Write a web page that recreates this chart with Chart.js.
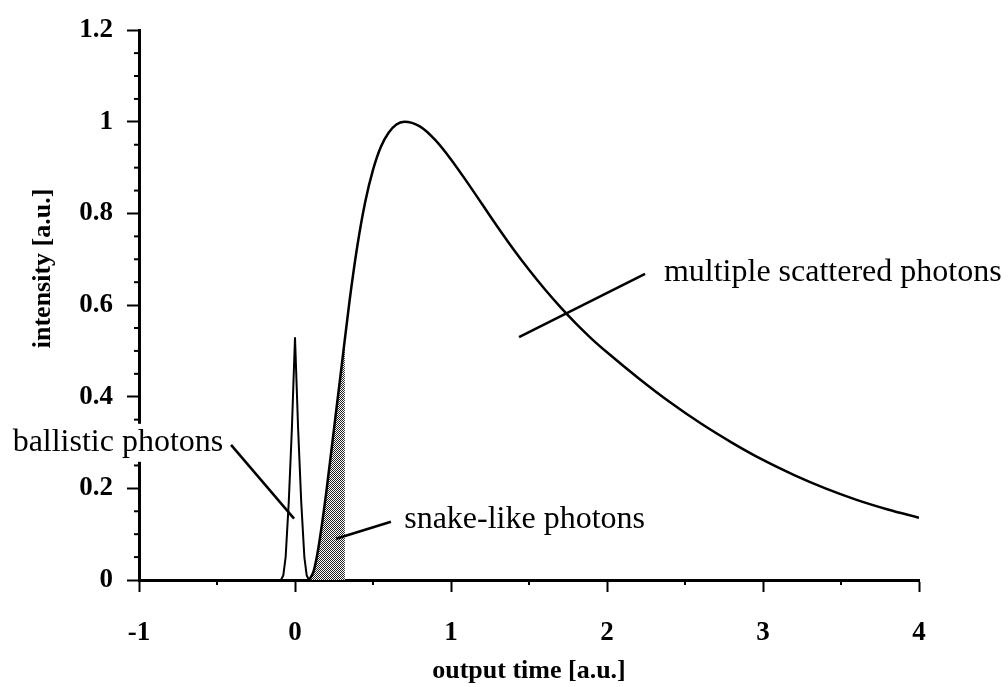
<!DOCTYPE html>
<html lang="en">
<head>
  <meta charset="UTF-8">
  <title>output time vs intensity</title>
  <script src="https://cdn.jsdelivr.net/npm/chart.js"></script>
  <style>
    body {
      margin: 0;
      background-color: white;
    }

    #chartContainer {
      width: 1008px;
      height: 687px;
      position: relative;
    }
  </style>
</head>
<body>

  <div id="chartContainer">
    <canvas id="photonChart"></canvas>
  </div>

  <script>
    // ballistic peak around t = 0
    const ballisticX = [-0.09, -0.075, -0.06, -0.04, -0.02, 0, 0.02, 0.04, 0.06, 0.075, 0.09];
    const ballisticY = [0, 0.01, 0.05, 0.17, 0.33, 0.53, 0.33, 0.17, 0.05, 0.01, 0];

    // scattered photons curve
    const scatterX = [0.09, 0.12, 0.15, 0.2, 0.25, 0.3, 0.35, 0.4, 0.45, 0.5, 0.55, 0.6, 0.65, 0.7,
      0.8, 0.9, 1.0, 1.1, 1.2, 1.3, 1.4, 1.5, 1.6, 1.7, 1.8, 1.9, 2.0,
      2.2, 2.4, 2.6, 2.8, 3.0, 3.2, 3.4, 3.6, 3.8, 4.0];
    const scatterY = [0, 0.02, 0.07, 0.19, 0.33, 0.47, 0.61, 0.73, 0.825, 0.895, 0.945, 0.976, 0.994, 1.0,
      0.99, 0.96, 0.918, 0.870, 0.820, 0.770, 0.722, 0.677, 0.635, 0.596, 0.560, 0.527, 0.497,
      0.441, 0.389, 0.342, 0.300, 0.262, 0.229, 0.200, 0.175, 0.154, 0.136];

    // snake-like (shaded) part
    const snakeX = [0.09, 0.12, 0.15, 0.2, 0.25, 0.3, 0.32];
    const snakeY = [0, 0.02, 0.07, 0.19, 0.33, 0.47, 0.52];

    const xTicks = [-1, 0, 1, 2, 3, 4];
    const yTicks = [0, 0.2, 0.4, 0.6, 0.8, 1, 1.2];

    // annotations: text + pointer line (data coordinates)
    const notes = [
      { text: 'ballistic photons', x: -1.81, y: 0.282, box: true, line: [-0.41, 0.295, -0.006, 0.134] },
      { text: 'snake-like photons', x: 0.70, y: 0.114, box: false, line: [0.615, 0.127, 0.263, 0.09] },
      { text: 'multiple scattered photons', x: 2.365, y: 0.653, box: false, line: [1.436, 0.530, 2.244, 0.668] }
    ];

    const pts = (xs, ys) => xs.map((x, i) => ({ x: x, y: ys[i] }));

    // stipple pattern for the shaded area
    const pc = document.createElement('canvas');
    pc.width = 2; pc.height = 2;
    const pctx = pc.getContext('2d');
    pctx.fillStyle = '#fff';
    pctx.fillRect(0, 0, 2, 2);
    pctx.fillStyle = '#222';
    pctx.fillRect(0, 0, 1, 1);
    pctx.fillRect(1, 1, 1, 1);
    const stipple = pctx.createPattern(pc, 'repeat');

    const serif = "'Liberation Serif', 'Times New Roman', serif";

    const extras = {
      id: 'extras',
      afterDraw(chart) {
        const { ctx, scales: { x, y } } = chart;
        ctx.save();
        ctx.strokeStyle = 'black';
        ctx.lineWidth = 2;
        // minor ticks
        for (let v = -1; v <= 4.001; v += 0.5) {
          if (Math.abs(v - Math.round(v)) < 0.01) continue;
          const px = x.getPixelForValue(v);
          ctx.beginPath();
          ctx.moveTo(px, y.bottom);
          ctx.lineTo(px, y.bottom + 5);
          ctx.stroke();
        }
        for (let k = 0; k <= 24; k++) {
          if (k % 4 === 0) continue;
          const py = y.getPixelForValue(k * 0.05);
          ctx.beginPath();
          ctx.moveTo(x.left, py);
          ctx.lineTo(x.left - 5, py);
          ctx.stroke();
        }

        // y axis title
        ctx.fillStyle = 'black';
        ctx.font = 'bold 26px ' + serif;
        ctx.textAlign = 'center';
        ctx.textBaseline = 'middle';
        ctx.translate(43, y.getPixelForValue(0.68));
        ctx.rotate(-Math.PI / 2);
        ctx.fillText('intensity [a.u.]', 0, 0);
        ctx.restore();

        // annotations
        ctx.save();
        ctx.font = '32px ' + serif;
        ctx.textAlign = 'left';
        ctx.textBaseline = 'alphabetic';
        notes.forEach(n => {
          const tx = x.getPixelForValue(n.x);
          const ty = y.getPixelForValue(n.y);
          if (n.box) {
            const w = ctx.measureText(n.text).width;
            ctx.fillStyle = 'white';
            ctx.fillRect(tx - 2, ty - 27, w + 4, 38);
          }
          ctx.fillStyle = 'black';
          ctx.fillText(n.text, tx, ty);
          ctx.strokeStyle = 'black';
          ctx.lineWidth = 2.5;
          ctx.beginPath();
          ctx.moveTo(x.getPixelForValue(n.line[0]), y.getPixelForValue(n.line[1]));
          ctx.lineTo(x.getPixelForValue(n.line[2]), y.getPixelForValue(n.line[3]));
          ctx.stroke();
        });
        ctx.restore();
      }
    };

    new Chart(document.getElementById('photonChart'), {
      type: 'scatter',
      data: {
        datasets: [
          {
            label: 'ballistic',
            data: pts(ballisticX, ballisticY),
            showLine: true,
            borderColor: 'black',
            borderWidth: 2,
            pointRadius: 0,
            tension: 0,
            order: 1
          },
          {
            label: 'scattered',
            data: pts(scatterX, scatterY),
            showLine: true,
            borderColor: 'black',
            borderWidth: 2.5,
            pointRadius: 0,
            cubicInterpolationMode: 'monotone',
            order: 1
          },
          {
            label: 'snake',
            data: pts(snakeX, snakeY),
            showLine: true,
            borderWidth: 0,
            borderColor: 'rgba(0,0,0,0)',
            backgroundColor: stipple,
            fill: 'origin',
            pointRadius: 0,
            cubicInterpolationMode: 'monotone',
            order: 3
          }
        ]
      },
      options: {
        responsive: true,
        maintainAspectRatio: false,
        animation: false,
        layout: { padding: { top: 23, right: 89, left: 0, bottom: 0 } },
        plugins: {
          legend: { display: false },
          tooltip: { enabled: false }
        },
        scales: {
          x: {
            type: 'linear',
            min: -1,
            max: 4,
            afterFit: s => { s.height = 107; },
            afterBuildTicks: s => { s.ticks = xTicks.map(v => ({ value: v })); },
            ticks: {
              color: 'black',
              padding: 25,
              font: { family: serif, size: 27, weight: 'bold' }
            },
            grid: { drawOnChartArea: false, tickLength: 12, tickWidth: 2, tickColor: 'black' },
            border: { display: true, color: 'black', width: 3 },
            title: {
              display: true,
              text: 'output time [a.u.]',
              color: 'black',
              padding: { top: 0, bottom: 0 },
              font: { family: serif, size: 26, weight: 'bold' }
            }
          },
          y: {
            type: 'linear',
            min: 0,
            max: 1.2,
            afterFit: s => { s.width = 139; },
            afterBuildTicks: s => { s.ticks = yTicks.map(v => ({ value: v })); },
            ticks: {
              color: 'black',
              padding: 14,
              font: { family: serif, size: 27, weight: 'bold' },
              callback: v => String(Number(v.toFixed(2)))
            },
            grid: { drawOnChartArea: false, tickLength: 12, tickWidth: 2, tickColor: 'black' },
            border: { display: true, color: 'black', width: 3 }
          }
        }
      },
      plugins: [extras]
    });
  </script>

</body>
</html>
